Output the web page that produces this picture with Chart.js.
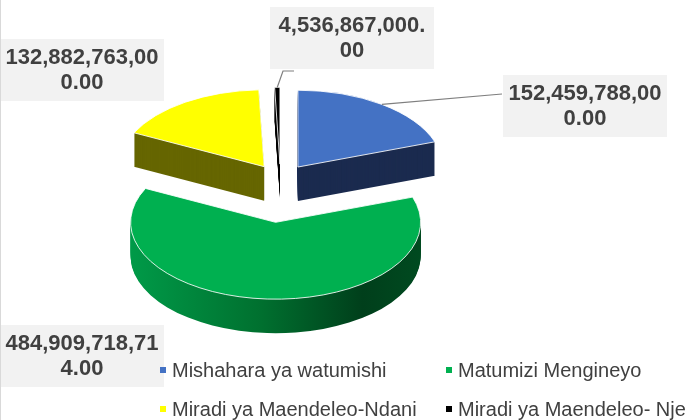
<!DOCTYPE html>
<html>
<head>
<meta charset="utf-8">
<script src="https://cdn.jsdelivr.net/npm/chart.js@4.4.0/dist/chart.umd.min.js"></script>
<style>
html, body { margin: 0; padding: 0; background: #fff; }
</style>
</head>
<body>
<canvas id="budgetPieChart" width="685" height="420"></canvas>
<script>
// data
var labelArray = ["Mishahara ya watumishi", "Matumizi Mengineyo", "Miradi ya Maendeleo-Ndani", "Miradi ya Maendeleo- Nje"];
var valueArray = [152459788000.00, 484909718714.00, 132882763000.00, 4536867000.00];

// look
var topColors = ["#4472c4", "#00b050", "#ffff00", "#000000"];
var sideColors = ["#1b2b4f", "gradient", "#666600", "#000000"];
var explodeArray = [30, 80, 30, 30];
var labelBoxes = [[585, 106], [82, 356], [82, 70], [352, 38]];
var leaderPoints = [[[502, 94]], null, null, [[283, 71], [294, 71]]];
var legendCols = [160, 446], legendRows = [370, 409];
var tilt = 0.53, depth = 34;

function slicePath(ctx, a, ox, oy) {
	ctx.save();
	ctx.translate(a.x + ox, a.y + oy);
	ctx.scale(1, tilt);
	ctx.beginPath();
	ctx.moveTo(0, 0);
	ctx.arc(0, 0, a.outerRadius, a.startAngle, a.endAngle);
	ctx.closePath();
	ctx.restore();
}

function sliceOffset(a, i) {
	var mid = (a.startAngle + a.endAngle) / 2;
	return { mid: mid, ox: Math.cos(mid) * explodeArray[i], oy: Math.sin(mid) * explodeArray[i] * tilt };
}

function fmt(v) {
	var s = v.toLocaleString("en-US", { minimumFractionDigits: 2, maximumFractionDigits: 2 });
	return [s.slice(0, 14), s.slice(14)];
}

var pie3d = {
	id: "pie3d",
	beforeDatasetsDraw: function (chart) {
		var ctx = chart.ctx;
		var arcs = chart.getDatasetMeta(0).data;
		var order = arcs.map(function (a, i) { return i; });
		order.sort(function (p, q) { return sliceOffset(arcs[p], p).oy - sliceOffset(arcs[q], q).oy; });

		order.forEach(function (i) {
			var a = arcs[i], o = sliceOffset(a, i);
			var side = sideColors[i];
			if (side === "gradient") {
				var cx = a.x + o.ox, R = a.outerRadius;
				side = ctx.createLinearGradient(cx - R, 0, cx + R, 0);
				side.addColorStop(0, "#009a48");
				side.addColorStop(0.45, "#00702f");
				side.addColorStop(0.8, "#003f1b");
				side.addColorStop(1, "#004a20");
			}
			ctx.fillStyle = side;
			for (var s = depth; s >= 1; s--) {
				slicePath(ctx, a, o.ox, o.oy + s);
				ctx.fill();
			}
			slicePath(ctx, a, o.ox, o.oy);
			ctx.fillStyle = topColors[i];
			ctx.fill();
			ctx.strokeStyle = "rgba(255,255,255,0.85)";
			ctx.lineWidth = 1;
			ctx.stroke();
		});
		return false;
	},
	afterDraw: function (chart) {
		var ctx = chart.ctx;
		var arcs = chart.getDatasetMeta(0).data;
		ctx.save();

		// leader lines
		ctx.strokeStyle = "#7f7f7f";
		ctx.lineWidth = 1.2;
		arcs.forEach(function (a, i) {
			if (!leaderPoints[i]) return;
			var o = sliceOffset(a, i);
			ctx.beginPath();
			ctx.moveTo(a.x + o.ox + Math.cos(o.mid) * a.outerRadius, a.y + o.oy + Math.sin(o.mid) * a.outerRadius * tilt);
			leaderPoints[i].forEach(function (p) { ctx.lineTo(p[0], p[1]); });
			ctx.stroke();
		});

		// data labels
		ctx.font = "bold 22px 'Liberation Sans', Arial, sans-serif";
		ctx.textAlign = "center";
		ctx.textBaseline = "middle";
		valueArray.forEach(function (v, i) {
			var b = labelBoxes[i];
			ctx.fillStyle = "#f2f2f2";
			ctx.fillRect(b[0] - 82, b[1] - 31, 164, 62);
			var lines = fmt(v);
			ctx.fillStyle = "#404040";
			ctx.fillText(lines[0], b[0], b[1] - 12);
			ctx.fillText(lines[1], b[0], b[1] + 13);
		});

		// legend
		ctx.font = "20px 'Liberation Sans', Arial, sans-serif";
		ctx.textAlign = "left";
		labelArray.forEach(function (t, i) {
			var x = legendCols[i % 2], y = legendRows[Math.floor(i / 2)];
			ctx.fillStyle = topColors[i];
			ctx.fillRect(x, y - 3, 6, 6);
			ctx.fillStyle = "#404040";
			ctx.fillText(t, x + 12, y + 1);
		});

		// chart border on the left
		ctx.strokeStyle = "#d9d9d9";
		ctx.lineWidth = 1;
		ctx.beginPath();
		ctx.moveTo(0.5, 0);
		ctx.lineTo(0.5, 420);
		ctx.stroke();
		ctx.restore();
	}
};

var ctx = document.getElementById("budgetPieChart");
var myPieChart = new Chart(ctx, {
	type: "pie",
	data: {
		labels: labelArray,
		datasets: [
			{
				data: valueArray,
				backgroundColor: topColors,
			},
		],
	},
	options: {
		responsive: false,
		animation: false,
		radius: 145,
		layout: { padding: { left: 0, right: 124, top: 0, bottom: 60 } },
		plugins: {
			legend: { display: false },
			tooltip: { enabled: false },
		},
	},
	plugins: [pie3d],
});
</script>
</body>
</html>
